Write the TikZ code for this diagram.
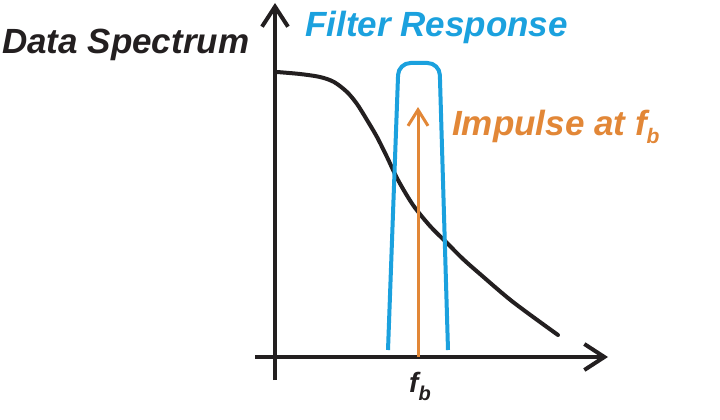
\documentclass[tikz,border=0pt]{standalone}
\usepackage{fontspec}
\setmainfont{Liberation Sans}
\usetikzlibrary{arrows.meta}
\definecolor{ink}{RGB}{35,31,32}
\definecolor{fblue}{RGB}{27,161,222}
\definecolor{forange}{RGB}{226,135,55}
\tikzset{
  lbl/.style={font=\fontsize{35}{40}\selectfont\bfseries\itshape, inner sep=0pt},
  axisline/.style={draw=ink, line width=4pt, -{Straight Barb[length=20pt,width=26pt]}},
  spectrum/.style={draw=ink, line width=4pt, line cap=round},
  filterline/.style={draw=fblue, line width=4pt, rounded corners=12pt},
  impulse/.style={draw=forange, line width=3pt, -{Straight Barb[length=16pt,width=20pt]}},
}
\begin{document}
\begin{tikzpicture}[x=1pt,y=-1pt]
\fill[white] (0,0) rectangle (720,420);
\useasboundingbox (0,0) rectangle (720,420);
% axes
\coordinate (ybot) at (275,380);
\coordinate (ytop) at (275,3);
\coordinate (xleft) at (255,357);
\coordinate (xright) at (608,357);
\draw[axisline] (ybot) -- (ytop);
\draw[axisline] (xleft) -- (xright);
% data spectrum curve
\draw[spectrum] plot[smooth, tension=0.5] coordinates {(277,72) (300,74) (320,77) (334,82) (347,92) (357,104) (367,120) (377,137) (387,157) (398,180) (413,205) (430,226) (447,243) (463,259) (480,274) (513,302) (558,335)};
% filter response
\coordinate (fl) at (388,350);
\coordinate (flt) at (398.5,63);
\coordinate (frt) at (439.5,63);
\coordinate (fr) at (448,350);
\draw[filterline] (fl) -- (flt) -- (frt) -- (fr);
% impulse
\coordinate (ib) at (418,357);
\coordinate (it) at (418,107);
\draw[impulse] (ib) -- (it);
% labels
\node[lbl, text=ink, anchor=base west] (ds) at (2,53) {Data Spectrum};
\node[lbl, text=fblue, anchor=base west] (fresp) at (305,37) {Filter Response};
\node[lbl, text=forange, anchor=base west] (imp) at (452,135) {Impulse at f\raisebox{-8pt}{\fontsize{21}{21}\selectfont b}};
\node[lbl, text=ink, anchor=base west, font=\fontsize{28}{30}\selectfont\bfseries\itshape] (fb) at (409,392) {f\raisebox{-8pt}{\fontsize{20}{20}\selectfont b}};
\end{tikzpicture}
\end{document}
